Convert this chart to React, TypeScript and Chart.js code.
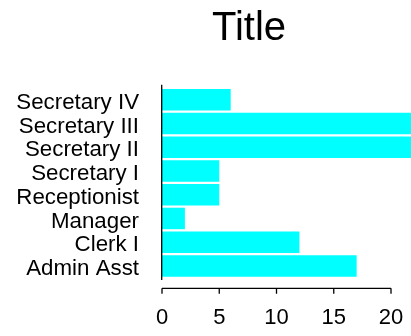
import React, { useEffect, useRef } from "react";
import { Chart, registerables } from "chart.js";

Chart.register(...registerables);

const categories = [
  "Secretary IV",
  "Secretary III",
  "Secretary II",
  "Secretary I",
  "Receptionist",
  "Manager",
  "Clerk I",
  "Admin Asst",
];
const counts = [6, 24, 23, 5, 5, 2, 12, 17];
const xTicks = [0, 5, 10, 15, 20];
const chartTitle = "Title";

const FONT = '"Liberation Sans", Arial, Helvetica, sans-serif';
const TITLE_LEFT = 107;

const rAxes = {
  id: "rAxes",
  afterLayout(chart: any) {
    if (chart.titleBlock) {
      chart.titleBlock.left = TITLE_LEFT;
      chart.titleBlock.right = chart.chartArea.right;
      chart.titleBlock.width = chart.titleBlock.right - chart.titleBlock.left;
    }
  },
  afterDatasetsDraw(chart: any) {
    const { ctx, chartArea, scales } = chart;
    const xs = scales.x;
    const x0 = xs.getPixelForValue(xTicks[0]);
    const x1 = xs.getPixelForValue(xTicks[xTicks.length - 1]);
    ctx.save();
    ctx.strokeStyle = "#000";
    ctx.lineWidth = 1.3;
    ctx.beginPath();
    ctx.moveTo(x0 - 0.3, chartArea.top - 3.2);
    ctx.lineTo(x0 - 0.3, chartArea.bottom + 2.2);
    ctx.stroke();
    const ay = chartArea.bottom + 10.5;
    ctx.beginPath();
    ctx.moveTo(x0, ay);
    ctx.lineTo(x1, ay);
    for (const v of xTicks) {
      const px = xs.getPixelForValue(v);
      ctx.moveTo(px, ay);
      ctx.lineTo(px, ay + 5.5);
    }
    ctx.stroke();
    ctx.restore();
  },
};

export default function App() {
  const ref = useRef<HTMLCanvasElement | null>(null);
  useEffect(() => {
    if (!ref.current) return;
    const chart = new Chart(ref.current, {
      type: "bar",
      data: {
        labels: categories,
        datasets: [
          {
            data: counts,
            backgroundColor: "#00FFFF",
            borderWidth: 0,
            categoryPercentage: 1,
            barPercentage: 0.905,
            clip: false as any,
          },
        ],
      },
      options: {
        indexAxis: "y",
        responsive: false,
        animation: false,
        devicePixelRatio: 1,
        layout: { padding: { left: 0, right: 20, top: 0, bottom: 0 } },
        plugins: {
          legend: { display: false },
          tooltip: { enabled: false },
          title: {
            display: true,
            text: chartTitle,
            color: "#000",
            font: { family: FONT, size: 40, weight: "normal" as any },
            padding: { top: 5, bottom: 34.9 },
          },
        },
        scales: {
          x: {
            min: 0,
            max: 20,
            grid: { display: false, drawTicks: false },
            border: { display: false },
            ticks: {
              stepSize: 5,
              color: "#000",
              font: { family: FONT, size: 22 },
              padding: 27,
              maxRotation: 0,
            },
            afterFit: (s: any) => {
              s.height = 58.2;
              s.paddingLeft = 0;
              s.paddingRight = 0;
            },
          },
          y: {
            grid: { display: false, drawTicks: false },
            border: { display: false },
            ticks: {
              color: "#000",
              font: { family: FONT, size: 22.3 },
              padding: 23,
              labelOffset: 3,
              autoSkip: false,
            },
            afterFit: (s: any) => {
              s.width = 162;
            },
          },
        },
      },
      plugins: [rAxes],
    });
    return () => chart.destroy();
  }, []);
  return (
    <div style={{ position: "absolute", left: 0, top: 0, width: 411, height: 336 }}>
      <canvas ref={ref} width={411} height={336} />
    </div>
  );
}
